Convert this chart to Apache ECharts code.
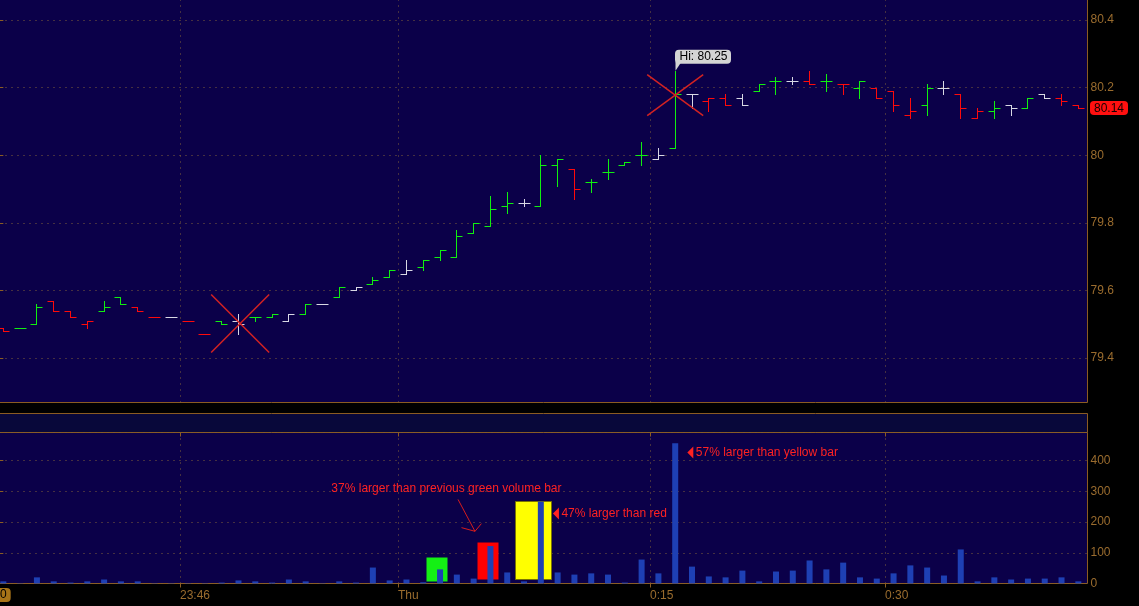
<!DOCTYPE html>
<html>
<head>
<meta charset="utf-8">
<title>1 min bars</title>
<script src="https://cdn.jsdelivr.net/npm/echarts/dist/echarts.min.js"></script>
<style>
  html, body { margin: 0; padding: 0; background: #000; }
  #chart { width: 1139px; height: 606px; }
</style>
</head>
<body>
<div id="chart"></div>
<script>
// one-minute bars, index 0 is the leftmost bar
var opens  = [79.49,79.49,79.50,79.57,79.54,79.50,79.54,79.58,79.55,79.52,
              79.52,79.51,79.47,79.51,79.51,79.52,79.52,79.51,79.53,79.56,
              79.58,79.60,79.62,79.64,79.65,79.67,79.70,79.70,79.77,79.79,
              79.85,79.86,79.85,79.97,79.96,79.92,79.95,79.97,80.00,79.99,
              80.02,80.18,80.16,80.17,80.17,80.19,80.22,80.22,80.22,80.22,
              80.21,80.20,80.20,80.19,80.12,80.15,80.20,80.18,80.11,80.13,
              80.15,80.14,80.18,80.17,80.15];
var highs  = [79.49,79.49,79.56,79.57,79.54,79.51,79.57,79.58,79.55,79.52,
              79.52,79.51,79.47,79.51,79.53,79.52,79.53,79.53,79.56,79.56,
              79.61,79.61,79.64,79.66,79.69,79.69,79.72,79.78,79.80,79.88,
              79.89,79.87,80.00,79.99,79.96,79.93,79.99,79.98,80.04,80.02,
              80.25,80.18,80.17,80.18,80.18,80.21,80.23,80.23,80.25,80.24,
              80.21,80.22,80.20,80.19,80.17,80.21,80.22,80.18,80.14,80.16,
              80.15,80.17,80.18,80.18,80.15];
var lows   = [79.48,79.49,79.50,79.54,79.52,79.49,79.54,79.56,79.54,79.52,
              79.52,79.51,79.47,79.50,79.47,79.51,79.52,79.51,79.53,79.56,
              79.58,79.60,79.62,79.64,79.65,79.66,79.69,79.70,79.77,79.79,
              79.83,79.85,79.85,79.91,79.87,79.89,79.93,79.97,79.97,79.99,
              80.02,80.14,80.13,80.15,80.15,80.19,80.18,80.21,80.21,80.19,
              80.18,80.17,80.17,80.13,80.11,80.12,80.18,80.11,80.11,80.11,
              80.12,80.14,80.17,80.15,80.14];
var closes = [79.48,79.49,79.55,79.54,79.52,79.51,79.55,79.56,79.54,79.52,
              79.52,79.51,79.47,79.50,79.50,79.52,79.53,79.53,79.56,79.56,
              79.61,79.61,79.63,79.66,79.66,79.69,79.72,79.76,79.80,79.84,
              79.86,79.86,79.97,79.99,79.90,79.92,79.95,79.98,80.00,80.00,
              80.18,80.18,80.17,80.15,80.15,80.21,80.22,80.22,80.21,80.22,
              80.21,80.22,80.17,80.15,80.13,80.20,80.20,80.14,80.13,80.14,
              80.14,80.17,80.17,80.16,80.14];
var volumes = [7,1,20,7,3,7,13,7,7,1,
               1,1,1,3,10,7,3,13,7,1,
               7,3,52,10,13,4,46,29,16,122,
               36,7,267,36,29,33,29,3,78,33,
               457,55,23,20,42,7,39,42,75,46,
               68,20,16,33,59,52,26,111,7,20,
               13,16,16,20,7];

// time grid lines sit between bars
var timeLabels  = ['23:46', 'Thu', '0:15', '0:30'];
var timeLabelAt = [10.5, 23.5, 38.5, 52.5];

// drawings on the chart (bar index, price / volume)
var crossMarks = [[14.1, 79.502], [40, 80.178]];
var volBoxes = [[25.16, 26.45, 6.5, 84.8], [28.2, 29.53, 13, 133.7], [30.46, 32.67, 13, 267.4]];
var noteText = ['37% larger than previous green volume bar', '47% larger than red', '57% larger than yellow bar'];
var noteAt = [[19.53, 310], [32.72, 228], [40.72, 427]];
var arrowFrom = [27.07, 274], arrowTo = [28.08, 170];

var GREEN = '#10f010', RED = '#ff0a0a', WHITE = '#d8d8e4';
var NAVY = '#0b0049', STRIP = '#08083a';
var AXIS = '#8b5c22', LABEL = '#9a6c2e', DOT = '#80603a';
var NOTE = '#ff2222', CROSS = '#d42222', VOL = '#1e40b4';
var FAMILY = '"Liberation Sans", Arial, sans-serif';
var FONT = '12px ' + FAMILY;
var boxFill = ['#14f014', '#ff0000', '#ffff00'];
var crossHalf = [[29, 29], [28, 20.5]];

var XMIN = -0.228, XMAX = 64.546;

var hiValue = Math.max.apply(null, highs);
var hiIndex = highs.indexOf(hiValue);
var last = closes.length - 1;

// colour by close against the previous close
var barColors = closes.map(function (c, i) {
  var ref = i === 0 ? opens[0] : closes[i - 1];
  var d = Math.round((c - ref) * 100);
  return d > 0 ? GREEN : (d < 0 ? RED : WHITE);
});

function renderBar(params, api) {
  var i = api.value(0);
  var pO = api.coord([i, api.value(1)]);
  var pH = api.coord([i, api.value(2)]);
  var pL = api.coord([i, api.value(3)]);
  var pC = api.coord([i, api.value(4)]);
  var x = Math.floor(pH[0]) + 0.5;
  var yo = Math.round(pO[1]) + 0.5, yc = Math.round(pC[1]) + 0.5;
  var yh = Math.round(pH[1]), yl = Math.round(pL[1]) + 1;
  var color = barColors[params.dataIndex];
  return { type: 'group', children: [
    { type: 'line', shape: { x1: x, y1: yh, x2: x, y2: yl }, style: { stroke: color, lineWidth: 1 } },
    { type: 'line', shape: { x1: x - 6, y1: yo, x2: x + 0.5, y2: yo }, style: { stroke: color, lineWidth: 1 } },
    { type: 'line', shape: { x1: x - 0.5, y1: yc, x2: x + 6, y2: yc }, style: { stroke: color, lineWidth: 1 } }
  ]};
}

function renderCross(params, api) {
  var p = api.coord([api.value(0), api.value(1)]);
  var h = crossHalf[params.dataIndex];
  return { type: 'group', children: [
    { type: 'line', shape: { x1: p[0] - h[0], y1: p[1] - h[1], x2: p[0] + h[0], y2: p[1] + h[1] }, style: { stroke: CROSS, lineWidth: 1.5 } },
    { type: 'line', shape: { x1: p[0] + h[0], y1: p[1] - h[1], x2: p[0] - h[0], y2: p[1] + h[1] }, style: { stroke: CROSS, lineWidth: 1.5 } }
  ]};
}

function renderHi(params, api) {
  var p = api.coord([api.value(0), api.value(1)]);
  var x = Math.floor(p[0]) + 0.5, y = p[1];
  return { type: 'group', children: [
    { type: 'polygon', shape: { points: [[x, y], [x, y - 9], [x + 6, y - 9]] }, style: { fill: '#d4d4d4' } },
    { type: 'rect', shape: { x: x - 0.5, y: y - 21, width: 56, height: 14, r: 4 }, style: { fill: '#d4d4d4' } },
    { type: 'text', x: x + 4, y: y - 14, style: { text: 'Hi: ' + api.value(1).toFixed(2), fill: '#000', font: FONT, align: 'left', verticalAlign: 'middle' } }
  ]};
}

function renderLast(params, api) {
  var cs = params.coordSys;
  var p = api.coord([api.value(0), api.value(1)]);
  var x0 = cs.x + cs.width + 2.5, y = Math.round(p[1]);
  return { type: 'group', children: [
    { type: 'rect', shape: { x: x0, y: y - 7, width: 38, height: 14, r: 4 }, style: { fill: '#ff1010' } },
    { type: 'text', x: x0 + 19, y: y + 0.5, style: { text: api.value(1).toFixed(2), fill: '#160000', font: FONT, align: 'center', verticalAlign: 'middle' } }
  ]};
}

function renderPriceGrid(params, api) {
  var cs = params.coordSys;
  var x = Math.round(api.coord([api.value(0), 0])[0]) + 0.5;
  return { type: 'line', shape: { x1: x, y1: cs.y, x2: x, y2: cs.y + cs.height },
           style: { stroke: DOT, lineWidth: 1, lineDash: [1, 5] } };
}

function renderVolGrid(params, api) {
  var cs = params.coordSys;
  var x = Math.round(api.coord([api.value(0), 0])[0]) + 0.5;
  var top = cs.y, bottom = cs.y + cs.height;
  return { type: 'group', children: [
    { type: 'line', shape: { x1: x, y1: top, x2: x, y2: bottom }, style: { stroke: DOT, lineWidth: 1, lineDash: [1, 5] } },
    { type: 'line', shape: { x1: x, y1: top, x2: x, y2: top + 4 }, style: { stroke: AXIS, lineWidth: 1 } },
    { type: 'line', shape: { x1: x, y1: bottom, x2: x, y2: bottom + 4 }, style: { stroke: AXIS, lineWidth: 1 } },
    { type: 'text', x: x - 0.5, y: bottom + 12.5, style: { text: timeLabels[params.dataIndex], fill: LABEL, font: FONT, align: 'left', verticalAlign: 'middle' } }
  ]};
}

function renderBox(params, api) {
  var k = params.dataIndex;
  var a = api.coord([api.value(0), api.value(3)]);
  var b = api.coord([api.value(1), api.value(2)]);
  var x1 = Math.round(a[0]), x2 = Math.round(b[0]);
  var y1 = Math.round(a[1]), y2 = Math.round(b[1]);
  var style = { fill: boxFill[k] };
  if (k === 2) { style.stroke = '#7a7400'; style.lineWidth = 1; }
  return { type: 'rect', shape: { x: x1 + 0.5, y: y1 + 0.5, width: x2 - x1 - 1, height: y2 - y1 - 1 }, style: style };
}

function renderNote(params, api) {
  var k = params.dataIndex;
  var p = api.coord([api.value(0), api.value(1)]);
  var children = [];
  var tx = p[0];
  if (k > 0) {
    children.push({ type: 'polygon', shape: { points: [[p[0], p[1]], [p[0] + 6, p[1] - 6], [p[0] + 6, p[1] + 6]] }, style: { fill: NOTE } });
    tx = p[0] + 8.5;
  } else {
    var f = api.coord(arrowFrom), t = api.coord(arrowTo);
    children.push({ type: 'line', shape: { x1: f[0], y1: f[1], x2: t[0], y2: t[1] }, style: { stroke: '#d81c1c', lineWidth: 1 } });
    children.push({ type: 'polyline', shape: { points: [[t[0] - 13.5, t[1] - 3.7], [t[0], t[1]], [t[0] + 6.4, t[1] - 7.7]] }, style: { stroke: '#d81c1c', lineWidth: 1, fill: null } });
  }
  children.push({ type: 'text', x: tx, y: p[1], style: { text: noteText[k], fill: NOTE, font: FONT, align: 'left', verticalAlign: 'middle' } });
  return { type: 'group', children: children };
}

var gridBase = { left: -0.5, width: 1088, containLabel: false, outerBoundsMode: 'none' };
function makeGrid(extra) { return Object.assign({}, gridBase, extra); }

var xAxes = [0, 1, 2, 3].map(function (g) {
  return { gridIndex: g, type: 'value', min: XMIN, max: XMAX, show: false };
});

var yLabel = { margin: 3, color: LABEL, fontSize: 12, fontFamily: FAMILY };
var yTick = { show: true, inside: true, length: 5, lineStyle: { color: AXIS } };
var ySplit = { show: true, lineStyle: { color: DOT, width: 1, type: [1, 5] } };

var option = {
  backgroundColor: '#000',
  animation: false,
  grid: [
    makeGrid({ top: -0.5, height: 403, show: true, backgroundColor: NAVY, borderColor: AXIS, borderWidth: 1 }),
    makeGrid({ top: 20, height: 338 }),
    makeGrid({ top: 413.5, height: 19, show: true, backgroundColor: STRIP, borderColor: AXIS, borderWidth: 1 }),
    makeGrid({ top: 432.5, height: 151, show: true, backgroundColor: NAVY, borderColor: AXIS, borderWidth: 1 })
  ],
  xAxis: xAxes,
  yAxis: [
    { gridIndex: 0, type: 'value', min: 0, max: 1, show: false },
    { gridIndex: 1, type: 'value', position: 'right', min: 79.4, max: 80.4, interval: 0.2,
      axisLine: { show: false }, axisTick: yTick, axisLabel: yLabel, splitLine: ySplit },
    { gridIndex: 2, type: 'value', min: 0, max: 1, show: false },
    { gridIndex: 3, type: 'value', position: 'right', min: 0, max: 492, interval: 100,
      axisLine: { show: false }, axisTick: yTick,
      axisLabel: Object.assign({ showMaxLabel: false }, yLabel), splitLine: ySplit }
  ],
  graphic: [{
    type: 'text', left: -1, top: 588, silent: true,
    style: { text: '0', fill: '#000', font: FONT, backgroundColor: '#a87418', padding: [1, 4, 1, 1], borderRadius: [0, 4, 4, 0] }
  }],
  series: [
    { type: 'custom', name: 'priceGrid', xAxisIndex: 0, yAxisIndex: 0, z: 1, silent: true, clip: false,
      data: timeLabelAt.map(function (v) { return [v, 0.5]; }), renderItem: renderPriceGrid },
    { type: 'custom', name: 'price', xAxisIndex: 1, yAxisIndex: 1, z: 3, silent: true, clip: false,
      encode: { x: 0, y: [1, 2, 3, 4] },
      data: opens.map(function (o, i) { return [i, o, highs[i], lows[i], closes[i]]; }),
      renderItem: renderBar },
    { type: 'custom', name: 'crosses', xAxisIndex: 1, yAxisIndex: 1, z: 4, silent: true, clip: false,
      data: crossMarks, renderItem: renderCross },
    { type: 'custom', name: 'hi', xAxisIndex: 1, yAxisIndex: 1, z: 5, silent: true, clip: false,
      data: [[hiIndex, hiValue]], renderItem: renderHi },
    { type: 'custom', name: 'last', xAxisIndex: 1, yAxisIndex: 1, z: 5, silent: true, clip: false,
      data: [[last, closes[last]]], renderItem: renderLast },
    { type: 'custom', name: 'volGrid', xAxisIndex: 3, yAxisIndex: 3, z: 1, silent: true, clip: false,
      data: timeLabelAt.map(function (v) { return [v, 0]; }), renderItem: renderVolGrid },
    { type: 'custom', name: 'boxes', xAxisIndex: 3, yAxisIndex: 3, z: 2, silent: true, clip: false,
      encode: { x: [0, 1], y: [2, 3] }, data: volBoxes, renderItem: renderBox },
    { type: 'bar', name: 'volume', xAxisIndex: 3, yAxisIndex: 3, z: 3, silent: true, barWidth: 6,
      itemStyle: { color: VOL },
      data: volumes.map(function (v, i) { return [i, v]; }) },
    { type: 'custom', name: 'notes', xAxisIndex: 3, yAxisIndex: 3, z: 5, silent: true, clip: false,
      data: noteAt.map(function (p, i) { return [p[0], p[1], i]; }), renderItem: renderNote }
  ]
};

var chart = echarts.init(document.getElementById('chart'));
chart.setOption(option);
</script>
</body>
</html>
